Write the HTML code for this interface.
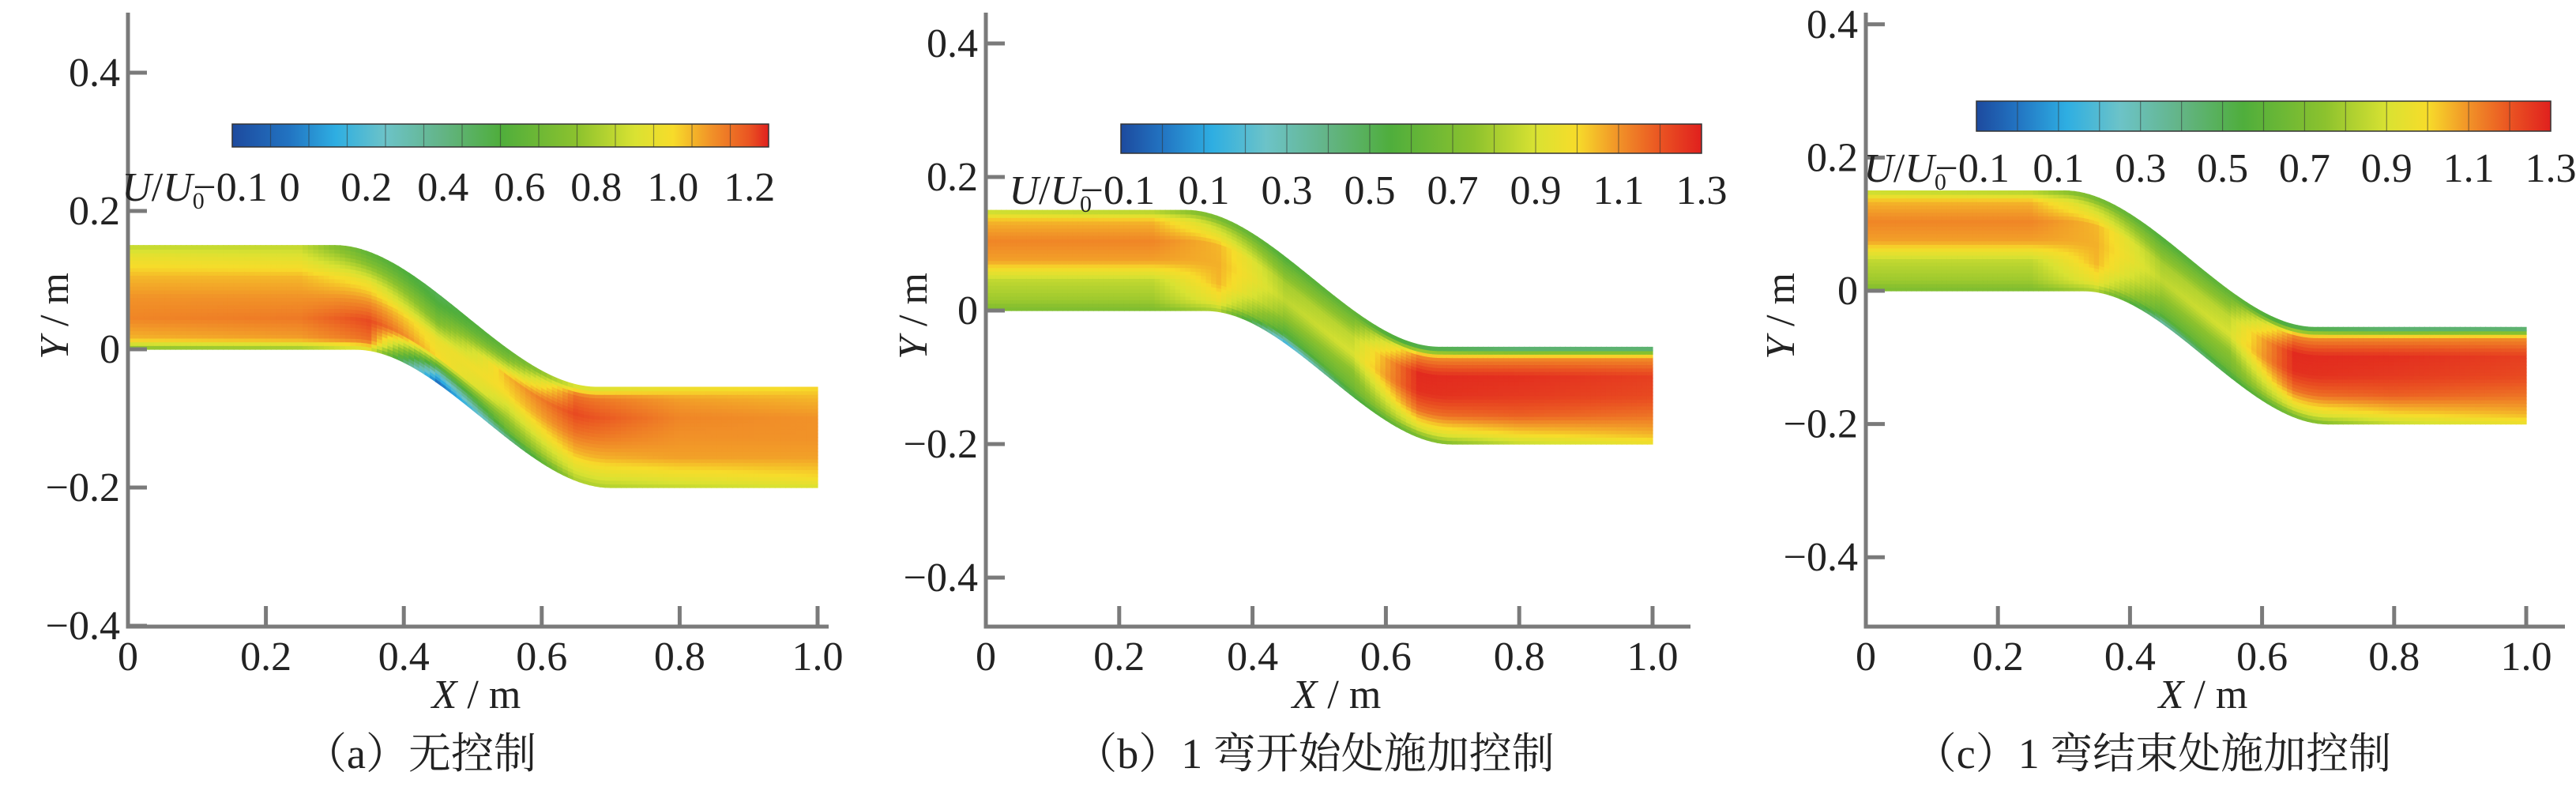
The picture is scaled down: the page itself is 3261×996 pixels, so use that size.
<!DOCTYPE html>
<html><head><meta charset="utf-8"><style>
html,body{margin:0;padding:0;background:#fff;}
svg{display:block;}
text{font-family:"Liberation Serif","DejaVu Serif","Noto Serif CJK SC",serif;}
text.cap{font-family:"Liberation Serif","Noto Serif CJK SC",serif;}
</style></head><body>
<svg id="fig" width="3261" height="996" viewBox="0 0 3261 996"></svg>
<script>
// ---- data ----
const xTicks = [0, 0.2, 0.4, 0.6, 0.8, 1.0];
const xTickLabels = ["0", "0.2", "0.4", "0.6", "0.8", "1.0"];
const yTicks = [0.4, 0.2, 0, -0.2, -0.4];
const yTickLabels = ["0.4", "0.2", "0", "−0.2", "−0.4"];
const cbTicksA = [-0.1, 0, 0.2, 0.4, 0.6, 0.8, 1.0, 1.2];
const cbLabelsA = ["−0.1", "0", "0.2", "0.4", "0.6", "0.8", "1.0", "1.2"];
const cbTicksB = [-0.1, 0.1, 0.3, 0.5, 0.7, 0.9, 1.1, 1.3];
const cbLabelsB = ["−0.1", "0.1", "0.3", "0.5", "0.7", "0.9", "1.1", "1.3"];
const captions = ["（a）无控制", "（b）1 弯开始处施加控制", "（c）1 弯结束处施加控制"];
// field sample positions along pipe (x) and across (s: 0 bottom wall -> 1 top wall)
const fieldX = [0, 0.25, 0.35, 0.45, 0.55, 0.65, 0.8, 1.0];
const fieldS = [0, 0.1, 0.3, 0.5, 0.7, 0.9, 1];
const fieldA = [
 [0.70, 0.75, 0.90, -0.05, 0.35, 0.80, 0.85, 0.90],
 [1.05, 1.08, 1.15, 0.20, 0.65, 0.90, 0.95, 1.00],
 [1.12, 1.14, 1.22, 1.00, 0.85, 1.05, 1.08, 1.08],
 [1.10, 1.10, 1.10, 0.95, 1.00, 1.15, 1.10, 1.10],
 [1.05, 1.05, 0.95, 0.70, 1.05, 1.22, 1.12, 1.10],
 [0.95, 0.92, 0.70, 0.55, 0.70, 1.15, 1.08, 1.05],
 [0.85, 0.85, 0.60, 0.50, 0.60, 0.85, 0.95, 1.00]];
const fieldB = [
 [0.70, 0.70, 0.80, 0.10, 0.50, 0.65, 0.85, 0.95],
 [0.78, 0.78, 0.95, 0.55, 0.65, 0.90, 1.00, 1.05],
 [0.85, 0.85, 1.05, 0.75, 0.75, 1.15, 1.18, 1.15],
 [1.08, 1.08, 1.06, 0.85, 0.90, 1.27, 1.25, 1.22],
 [1.12, 1.12, 1.05, 0.80, 0.85, 1.28, 1.27, 1.24],
 [1.05, 1.05, 0.85, 0.65, 0.70, 1.10, 1.10, 1.10],
 [0.85, 0.80, 0.65, 0.55, 0.60, 0.40, 0.30, 0.30]];
const fieldC = [
 [0.70, 0.70, 0.80, 0.30, 0.50, 0.65, 0.85, 0.95],
 [0.78, 0.78, 0.95, 0.60, 0.65, 0.90, 1.00, 1.05],
 [0.85, 0.85, 1.05, 0.75, 0.75, 1.15, 1.18, 1.15],
 [1.08, 1.08, 1.06, 0.85, 0.90, 1.27, 1.25, 1.22],
 [1.12, 1.12, 1.05, 0.80, 0.85, 1.28, 1.27, 1.24],
 [1.05, 1.05, 0.85, 0.65, 0.70, 1.10, 1.10, 1.10],
 [0.85, 0.80, 0.65, 0.55, 0.60, 0.40, 0.30, 0.30]];

const cmapV = [-0.15, 0.0, 0.12, 0.25, 0.4, 0.55, 0.75, 0.9, 1.0, 1.1, 1.2, 1.3];
const cmapC = ["#1d4a9e","#2274c2","#2eaee2","#6cc3c8","#63b485","#4fae3c","#8cc22e","#d9e232","#f7dc2a","#f19228","#ea5422","#e0201e"];

const NS = "http://www.w3.org/2000/svg";
const svg = document.getElementById('fig');
function mk(tag, attrs, parent){ const e=document.createElementNS(NS,tag); for(const k in attrs) e.setAttribute(k,attrs[k]); (parent||svg).appendChild(e); return e; }
function hex(c){return [parseInt(c.slice(1,3),16),parseInt(c.slice(3,5),16),parseInt(c.slice(5,7),16)];}
function cmap(v){
  if(v<=cmapV[0]) return cmapC[0];
  for(let i=1;i<cmapV.length;i++){ if(v<=cmapV[i]){ const t=(v-cmapV[i-1])/(cmapV[i]-cmapV[i-1]); const a=hex(cmapC[i-1]), b=hex(cmapC[i]); return `rgb(${a.map((q,j)=>Math.round(q+(b[j]-q)*t)).join(',')})`; } }
  return cmapC[cmapC.length-1];
}
function interp(field, x, s){
  let i=0; while(i<fieldX.length-2 && x>fieldX[i+1]) i++;
  let j=0; while(j<fieldS.length-2 && s>fieldS[j+1]) j++;
  const tx=Math.min(1,Math.max(0,(x-fieldX[i])/(fieldX[i+1]-fieldX[i])));
  const ts=Math.min(1,Math.max(0,(s-fieldS[j])/(fieldS[j+1]-fieldS[j])));
  const a=field[j][i]*(1-tx)+field[j][i+1]*tx, b=field[j+1][i]*(1-tx)+field[j+1][i+1]*tx;
  return a*(1-ts)+b*ts;
}
function sm(t){t=Math.min(1,Math.max(0,t));return t*t*(3-2*t);}
function topW(x){return 0.15-0.205*sm((x-0.30)/0.38);}
function botW(x){return 0-0.2*sm((x-0.33)/0.37);}

const panels = [
 {x0:162, kx:873, y0:442, ky:875, top:16, axisY:793, axisEnd:1049, field:fieldA, cb:[294,973,157,186,-0.15,1.25], cbT:cbTicksA, cbL:cbLabelsA, cbLabY:236, ytitleX:70, xtitleX:603, capX:532, name:'a'},
 {x0:1248, kx:844, y0:393, ky:845, top:16, axisY:793, axisEnd:2140, field:fieldB, cb:[1419,2154,157,194,-0.1,1.3], cbT:cbTicksB, cbL:cbLabelsB, cbLabY:240, ytitleX:1157, xtitleX:1692, capX:1664, name:'b'},
 {x0:2362, kx:836, y0:368, ky:843, top:16, axisY:793, axisEnd:3247, field:fieldC, cb:[2502,3229,128,166,-0.1,1.3], cbT:cbTicksB, cbL:cbLabelsB, cbLabY:212, ytitleX:2255, xtitleX:2789, capX:2725, name:'c'}
];

panels.forEach(p=>{
  const g = mk('g',{});
  
  
  const X=x=>p.x0+x*p.kx, Y=y=>p.y0-y*p.ky;
  const fg = mk('g',{}, g);
  
  
  const nx=130, ns=28;
  for(let i=0;i<nx;i++){
    const xa=i/nx, xb=(i+1)/nx, xm=(xa+xb)/2;
    for(let j=0;j<ns;j++){
      const sa=j/ns, sb=(j+1)/ns, smid=(sa+sb)/2;
      const ya1=botW(xa)+(topW(xa)-botW(xa))*sa, ya2=botW(xa)+(topW(xa)-botW(xa))*sb;
      const yb1=botW(xb)+(topW(xb)-botW(xb))*sa, yb2=botW(xb)+(topW(xb)-botW(xb))*sb;
      const c=cmap(interp(p.field,xm,smid));
      const q=mk('polygon',{points:`${X(xa)},${Y(ya1)} ${X(xb)},${Y(yb1)} ${X(xb)},${Y(yb2)} ${X(xa)},${Y(ya2)}`,fill:c,stroke:c,'stroke-width':1.2}, fg);
      
      
    }
  }
  const ax = mk('path',{d:`M${p.x0},${p.top} L${p.x0},${p.axisY} L${p.axisEnd},${p.axisY}`,fill:'none',stroke:'#7a7a7a','stroke-width':5}, g);
  
  
  yTicks.forEach((v,i)=>{
    const yy=Y(v); if(yy>p.axisY+2) return;
    const t=mk('line',{x1:p.x0,x2:p.x0+24,y1:yy,y2:yy,stroke:'#7a7a7a','stroke-width':5}, g);
    
    
    const l=mk('text',{x:p.x0-10,y:yy+17,'text-anchor':'end','font-size':52,fill:'#222'}, g);
    l.textContent=yTickLabels[i];
    
    
  });
  xTicks.forEach((v,i)=>{
    const xx=X(v);
    if(v>0){
      const t=mk('line',{x1:xx,x2:xx,y1:p.axisY,y2:p.axisY-26,stroke:'#7a7a7a','stroke-width':5}, g);
      
      
    }
    const l=mk('text',{x:xx,y:p.axisY+55,'text-anchor':'middle','font-size':52,fill:'#222'}, g);
    l.textContent=xTickLabels[i];
    
    
  });
  const xt=mk('text',{x:p.xtitleX,y:896,'text-anchor':'middle','font-size':52,fill:'#222'}, g);
  xt.innerHTML='<tspan font-style="italic">X</tspan> / m';
  
  
  const yt=mk('text',{x:0,y:0,'text-anchor':'middle','font-size':52,fill:'#222',transform:`translate(${p.ytitleX+16},400) rotate(-90)`}, g);
  yt.innerHTML='<tspan font-style="italic">Y</tspan> / m';
  
  
  const [cx1,cx2,cy1,cy2,vmin,vmax]=p.cb;
  const gid='grad'+p.name;
  const defs=mk('defs',{}, g);
  const lg=mk('linearGradient',{id:gid,x1:0,x2:1,y1:0,y2:0}, defs);
  cmapV.forEach((v,i)=>{ const off=Math.min(1,Math.max(0,(v-vmin)/(vmax-vmin))); mk('stop',{offset:off,'stop-color':cmapC[i]}, lg); });
  const cbr=mk('rect',{x:cx1,y:cy1,width:cx2-cx1,height:cy2-cy1,fill:`url(#${gid})`,stroke:'#333','stroke-width':1.5}, g);
  
  
  for(let k=1;k<14;k++){
    const xx=cx1+(cx2-cx1)*k/14;
    const d=mk('line',{x1:xx,x2:xx,y1:cy1,y2:cy2,stroke:'#333','stroke-opacity':0.55,'stroke-width':1.2}, g);
    
    
  }
  const cscale=v=>cx1+(v-vmin)/(vmax-vmin)*(cx2-cx1);
  let firstLeft=0;
  p.cbT.forEach((v,i)=>{
    let xx=cscale(v), anchor='middle';
    if(i===0){ xx=cscale(p.cbT[1])-(p.name==='a'?28:62); anchor='end'; }
    const l=mk('text',{x:xx,y:p.cbLabY+18,'text-anchor':anchor,'font-size':52,fill:'#222'}, g);
    l.textContent=p.cbL[i];
    
    
    if(i===0) firstLeft=xx-80;
  });
  const ct=mk('text',{x:firstLeft,y:p.cbLabY+18,'text-anchor':'end','font-size':52,fill:'#222'}, g);
  ct.innerHTML='<tspan font-style="italic">U</tspan>/<tspan font-style="italic">U</tspan><tspan font-size="30" dy="10">0</tspan>';
  
  
  const cap=mk('text',{x:p.capX,y:972,'text-anchor':'middle','font-size':54,fill:'#222','class':'cap'}, g);
  cap.textContent=captions[panels.indexOf(p)];
  
  
});
</script>
</body></html>
